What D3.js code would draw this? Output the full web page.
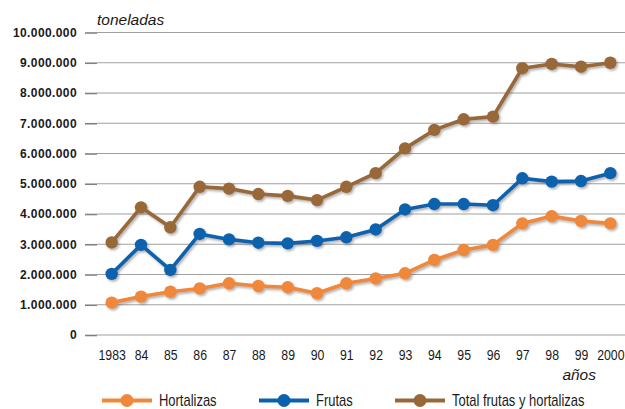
<!DOCTYPE html>
<html>
<head>
<meta charset="utf-8">
<script src="https://cdn.jsdelivr.net/npm/d3@7"></script>
<style>
  html, body { margin: 0; padding: 0; background: #fff; }
  svg { display: block; }
</style>
</head>
<body>
<svg id="chart" width="625" height="409"></svg>
<script>
const years = ["1983","1984","1985","1986","1987","1988","1989","1990","1991","1992","1993","1994","1995","1996","1997","1998","1999","2000"];
const yearLabels = ["1983","84","85","86","87","88","89","90","91","92","93","94","95","96","97","98","99","2000"];
const hortalizas = [1070000,1270000,1430000,1540000,1710000,1620000,1580000,1380000,1710000,1870000,2040000,2480000,2810000,2980000,3690000,3930000,3770000,3690000];
const frutas = [2020000,2980000,2150000,3340000,3160000,3050000,3030000,3110000,3230000,3490000,4150000,4330000,4330000,4290000,5180000,5070000,5090000,5350000];
const total = [3060000,4220000,3560000,4900000,4840000,4660000,4600000,4460000,4900000,5350000,6170000,6780000,7130000,7220000,8820000,8960000,8870000,9000000];
const yTicks = [0,1000000,2000000,3000000,4000000,5000000,6000000,7000000,8000000,9000000,10000000];
const seriesNames = ["Hortalizas","Frutas","Total frutas y hortalizas"];
const seriesColors = ["#F0883A","#0862AE","#996838"];
const seriesData = [hortalizas, frutas, total];

(function () {
const svg = d3.select("#chart");
const pLeft = 97, pRight = 625, pTop = 32.5, pBottom = 335;
const FONT = "'Liberation Sans', Arial, Helvetica, sans-serif";

const x = d3.scalePoint().domain(years).range([pLeft, pRight]).padding(0.5);
const y = d3.scaleLinear().domain([0, 10000000]).range([pBottom, pTop]);

const loc = d3.formatLocale({decimal: ",", thousands: ".", grouping: [3], currency: ["", ""]});
const fmt = loc.format(",d");

const defs = svg.append("defs");
const f = defs.append("filter").attr("id", "shadow").attr("x", "-10%").attr("y", "-10%").attr("width", "120%").attr("height", "130%");
f.append("feDropShadow").attr("dx", 1.5).attr("dy", 1.8).attr("stdDeviation", 0.9)
  .attr("flood-color", "#555").attr("flood-opacity", 0.45);

// gridlines
svg.append("g").selectAll("line").data(yTicks).join("line")
  .attr("x1", pLeft).attr("x2", pRight)
  .attr("y1", d => y(d)).attr("y2", d => y(d))
  .attr("stroke", "#a0a0a0").attr("stroke-width", 1.2);

// y axis
const yAxis = d3.axisLeft(y).tickValues(yTicks).tickSize(12).tickPadding(8).tickFormat(fmt);
const gy = svg.append("g").attr("transform", `translate(${pLeft},0)`).call(yAxis);
gy.select(".domain").remove();
gy.selectAll(".tick line").attr("stroke", "#808080").attr("stroke-width", 1.6);
gy.selectAll(".tick text")
  .attr("fill", "#1a1a1a")
  .style("font-family", FONT)
  .style("font-size", "12px").style("font-weight", "bold").style("letter-spacing", "0.4px");

// x axis
const xAxis = d3.axisBottom(x).tickSize(0).tickPadding(0).tickFormat((d, i) => yearLabels[i]);
const gx = svg.append("g").attr("transform", `translate(0,${pBottom})`).call(xAxis);
gx.select(".domain").remove();
gx.selectAll(".tick text")
  .attr("dy", null).attr("y", 0)
  .attr("transform", "translate(0,25) scale(0.82,1)")
  .attr("fill", "#1a1a1a")
  .style("font-family", FONT)
  .style("font-size", "15px");

// axis titles
svg.append("text").attr("x", 97).attr("y", 25).text("toneladas")
  .attr("fill", "#1a1a1a").style("font-family", FONT)
  .style("font-size", "15.5px").style("font-style", "italic");
svg.append("text").attr("x", 596).attr("y", 380).attr("text-anchor", "end").text("años")
  .attr("fill", "#1a1a1a").style("font-family", FONT)
  .style("font-size", "15.5px").style("font-style", "italic");

// series
const line = d3.line().x((d, i) => x(years[i])).y(d => y(d));
const order = [2, 1, 0];
order.forEach(k => {
  const g = svg.append("g").attr("filter", "url(#shadow)");
  g.append("path").datum(seriesData[k]).attr("d", line)
    .attr("fill", "none").attr("stroke", seriesColors[k]).attr("stroke-width", 3.6)
    .attr("stroke-linejoin", "round");
  g.selectAll("circle").data(seriesData[k]).join("circle")
    .attr("cx", (d, i) => x(years[i])).attr("cy", d => y(d)).attr("r", 6.2)
    .attr("fill", seriesColors[k]);
});

// legend
const legX = [102, 259, 395];
const legY = 400.5;
const leg = svg.append("g");
seriesNames.forEach((name, k) => {
  const g = leg.append("g").attr("transform", `translate(${legX[k]},${legY})`);
  g.append("line").attr("x1", 0).attr("x2", 50).attr("y1", 0).attr("y2", 0)
    .attr("stroke", seriesColors[k]).attr("stroke-width", 4);
  g.append("circle").attr("cx", 25).attr("cy", 0).attr("r", 6.5).attr("fill", seriesColors[k]);
  g.append("text").attr("x", 0).attr("y", 0).text(name)
    .attr("transform", "translate(57,5.5) scale(0.81,1)")
    .attr("fill", "#1a1a1a")
    .style("font-family", FONT)
    .style("font-size", "16px");
});
})();
</script>
</body>
</html>
